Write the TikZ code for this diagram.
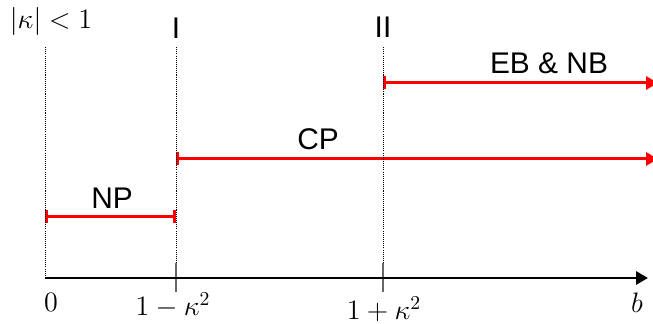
\RequirePackage{fix-cm}
\documentclass[tikz,border=0pt]{standalone}
\usepackage[no-math]{fontspec}
\newfontfamily\lblfont{Liberation Sans}
\usetikzlibrary{arrows.meta}
\begin{document}
\begin{tikzpicture}[line join=round, font=\fontsize{16}{19}\selectfont,
		zone/.style={red, line width=1.7pt, {Bar[width=0.26cm]}-{Triangle[length=0.24cm, width=0.26cm]}},
		npzone/.style={red, line width=1.7pt, {Bar[width=0.26cm]}-{Bar[width=0.26cm]}},
		bound/.style={line width=0.5pt, dash pattern=on 0.6pt off 0.6pt},
		tick/.style={gray!80!black, line width=0.6pt},
		lbl/.style={font=\fontsize{17}{20}\selectfont\lblfont}]
	\useasboundingbox (0,0) rectangle (13.06,6.48);
	\clip (0,0) rectangle (13.06,6.48);
	\def\yax{0.92} \def\ytop{5.54}
	% points on the b axis
	\coordinate (O) at (0.9,\yax);
	\coordinate (P) at (3.52,\yax);
	\coordinate (Q) at (7.66,\yax);
	\coordinate (E) at (12.96,\yax);
	% ends of the zones
	\coordinate (np0) at (0.9,2.14);   \coordinate (np1) at (3.52,2.14);
	\coordinate (cp0) at (3.52,3.30);  \coordinate (cp1) at (13.16,3.30);
	\coordinate (eb0) at (7.66,4.82);  \coordinate (eb1) at (13.16,4.82);
	\draw[npzone] (np0) -- (np1);
	\draw[zone] (cp0) -- (cp1);
	\draw[zone] (eb0) -- (eb1);
	\draw[bound] (O) -- (O |- 0,\ytop) (P) -- (P |- 0,\ytop) (Q) -- (Q |- 0,\ytop);
	\draw[tick] ([yshift=0.3cm]P) -- ([yshift=-0.28cm]P) ([yshift=0.3cm]Q) -- ([yshift=-0.28cm]Q);
	\draw[line width=1.7pt, -{Triangle[length=0.24cm, width=0.26cm]}] (O) -- (E);
	\node (n0) at (1.02,0.44) {$0$};
	\node (n1) at (3.46,0.38) {$1-\kappa^2$};
	\node (n2) at (7.68,0.30) {$1+\kappa^2$};
	\node (nb) at (12.74,0.42) {$b$};
	\node (nk) at (1.02,6.05) {$|\kappa|<1$};
	\node[lbl] (nI) at (3.52,5.92) {I};
	\node[lbl] (nII) at (7.66,5.94) {II};
	\node[lbl] (nNP) at (2.24,2.52) {NP};
	\node[lbl] (nCP) at (6.36,3.70) {CP};
	\node[lbl] (nEB) at (10.98,5.22) {EB \& NB};
\end{tikzpicture}
\end{document}
